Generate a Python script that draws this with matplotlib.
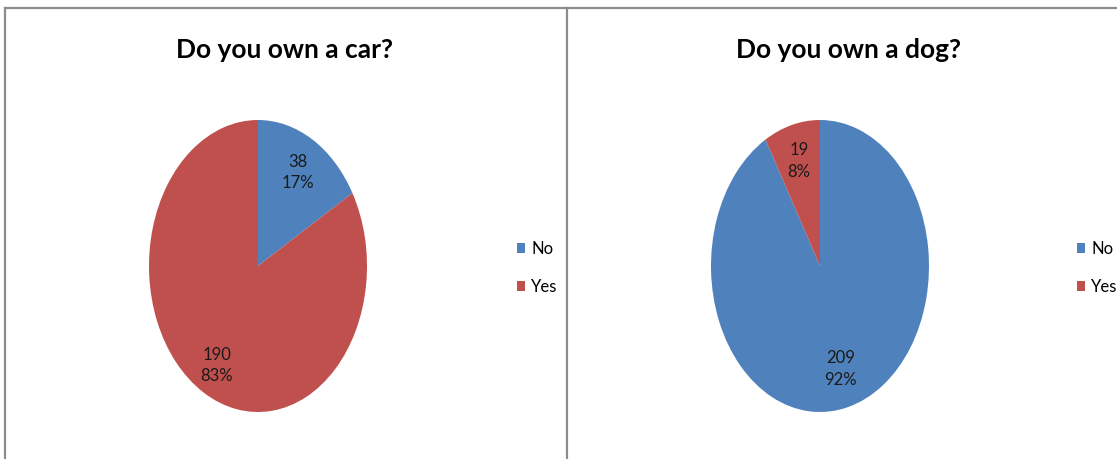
import matplotlib
matplotlib.use("Agg")
import matplotlib.pyplot as plt
from matplotlib.lines import Line2D
from matplotlib.patches import Patch
import numpy as np

plt.rcParams['font.family'] = ['Lato', 'DejaVu Sans']

categories = ["No", "Yes"]
car_counts = [38, 190]
dog_counts = [209, 19]
titles = ["Do you own a car?", "Do you own a dog?"]

colors = ["#4F81BD", "#C0504D"]
W, H = 1117, 459

fig = plt.figure(figsize=(W / 100, H / 100), dpi=100)

# panel borders (pixel coords from top-left)
def px_line(x0, y0, x1, y1):
    fig.add_artist(Line2D([x0 / W, x1 / W], [1 - y0 / H, 1 - y1 / H],
                          color="#8c8c8c", lw=1.6, transform=fig.transFigure))

px_line(5, 8, W, 8)
px_line(5, 8, 5, H)
px_line(567, 8, 567, H)

# label placement: (angle deg, radius) per slice
label_pos = [
    [(60, 0.74), (-119, 0.78)],
    [(-75, 0.73), (105, 0.745)],
]
pie_left = [149, 711]
title_x = [285, 848]
legend_x = [517, 1077]

for i, counts in enumerate([car_counts, dog_counts]):
    ax = fig.add_axes([pie_left[i] / W, (H - 412) / H, 218 / W, 292 / H])
    ax.pie(counts, colors=colors, startangle=90, counterclock=False,
           wedgeprops=dict(linewidth=0))
    ax.set_aspect("auto")
    ax.set_xlim(-1, 1)
    ax.set_ylim(-1, 1)
    ax.axis("off")
    total = sum(counts)
    for c, (ang, r) in zip(counts, label_pos[i]):
        t = np.deg2rad(ang)
        ax.text(r * np.cos(t), r * np.sin(t),
                f"{c}\n{round(100 * c / total)}%",
                ha="center", va="center", fontsize=12, linespacing=1.4,
                color="#1a1a1a")

    fig.text(title_x[i] / W, 1 - 50 / H, titles[i], ha="center", va="center",
             fontsize=19, fontweight="bold")

    handles = [Patch(facecolor=col, edgecolor="none") for col in colors]
    fig.legend(handles, categories, loc="center left",
               bbox_to_anchor=(legend_x[i] / W, 1 - 268 / H),
               frameon=False, fontsize=12, handlelength=0.5, handleheight=0.5,
               handletextpad=0.35, labelspacing=1.3, borderpad=0,
               borderaxespad=0)

fig.savefig("out.png", dpi=100, facecolor="white")
